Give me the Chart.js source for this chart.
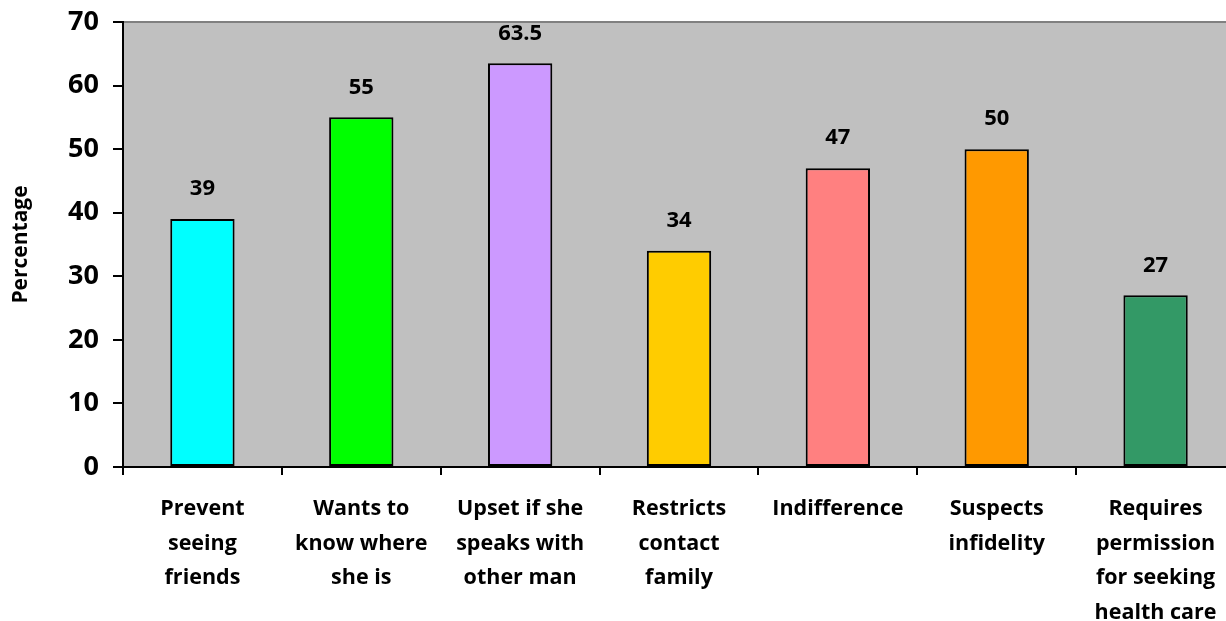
<!DOCTYPE html>
<html>
<head>
<meta charset="utf-8">
<script src="https://cdn.jsdelivr.net/npm/chart.js@4/dist/chart.umd.min.js"></script>
<style>
html,body{margin:0;padding:0;background:#fff;overflow:hidden;}
#wrap{width:1226px;height:621px;position:relative;overflow:hidden;}
</style>
</head>
<body>
<div id="wrap"><canvas id="c" width="1235" height="621"></canvas></div>
<script>
const categories = [
  ["Prevent","seeing","friends"],
  ["Wants to","know where","she is"],
  ["Upset if she","speaks with","other man"],
  ["Restricts","contact","family"],
  ["Indifference"],
  ["Suspects","infidelity"],
  ["Requires","permission","for seeking","health care"]
];
const values = [39, 55, 63.5, 34, 47, 50, 27];
const barColors = ["#00FFFF","#00FF00","#CC99FF","#FFCC00","#FF8080","#FF9900","#339966"];
const yTicks = [0,10,20,30,40,50,60,70];

const FONT = "'Open Sans', sans-serif";

const bgPlugin = {
  id: 'bg',
  beforeDraw(chart) {
    const {ctx, chartArea:a} = chart;
    ctx.save();
    ctx.fillStyle = '#C0C0C0';
    ctx.fillRect(a.left, a.top, a.right - a.left, a.bottom - a.top);
    ctx.strokeStyle = '#808080';
    ctx.lineWidth = 2;
    ctx.beginPath();
    ctx.moveTo(a.left, a.top);
    ctx.lineTo(a.right, a.top);
    ctx.stroke();
    ctx.restore();
  }
};
const labelPlugin = {
  id: 'vals',
  afterDatasetsDraw(chart) {
    const {ctx} = chart;
    const meta = chart.getDatasetMeta(0);
    ctx.save();
    ctx.font = "bold 22px " + FONT;
    ctx.fillStyle = '#000';
    ctx.textAlign = 'center';
    ctx.textBaseline = 'middle';
    meta.data.forEach((bar, i) => {
      ctx.fillText(String(values[i]), bar.x, bar.y - 30);
    });
    ctx.restore();
  }
};

new Chart(document.getElementById('c'), {
  type: 'bar',
  data: {
    labels: categories,
    datasets: [{
      data: values,
      backgroundColor: barColors,
      borderColor: '#000',
      borderWidth: 2,
      borderSkipped: false,
      categoryPercentage: 1,
      barPercentage: 0.405
    }]
  },
  options: {
    responsive: false,
    animation: false,
    devicePixelRatio: 1,
    layout: {padding: {top: 22, right: 0, left: 0, bottom: 0}},
    plugins: {legend: {display: false}, tooltip: {enabled: false}},
    scales: {
      y: {
        min: 0, max: 70,
        afterBuildTicks(scale) { scale.ticks = yTicks.map(v => ({value: v})); },
        afterFit(scale) { scale.width = 123; scale.paddingTop = 0; scale.paddingBottom = 0; },
        border: {color: '#000', width: 2},
        grid: {drawOnChartArea: false, drawTicks: true, tickLength: 10, color: '#000', lineWidth: 2},
        ticks: {color: '#000', padding: 14, font: {family: FONT, size: 27, weight: 'bold', lineHeight: 1}},
        title: {display: true, text: 'Percentage', color: '#000', padding: {top: 8, bottom: 4},
                font: {family: FONT, size: 21, weight: 'bold'}}
      },
      x: {
        afterFit(scale) { scale.height = 154; scale.paddingLeft = 0; scale.paddingRight = 0; },
        border: {color: '#000', width: 2},
        grid: {offset: true, drawOnChartArea: false, drawTicks: true, tickLength: 8, color: '#000', lineWidth: 2},
        ticks: {color: '#000', padding: 17, maxRotation: 0, autoSkip: false,
                font: {family: FONT, size: 21.5, weight: 'bold', lineHeight: 1.6}}
      }
    }
  },
  plugins: [bgPlugin, labelPlugin]
});
</script>
</body>
</html>
